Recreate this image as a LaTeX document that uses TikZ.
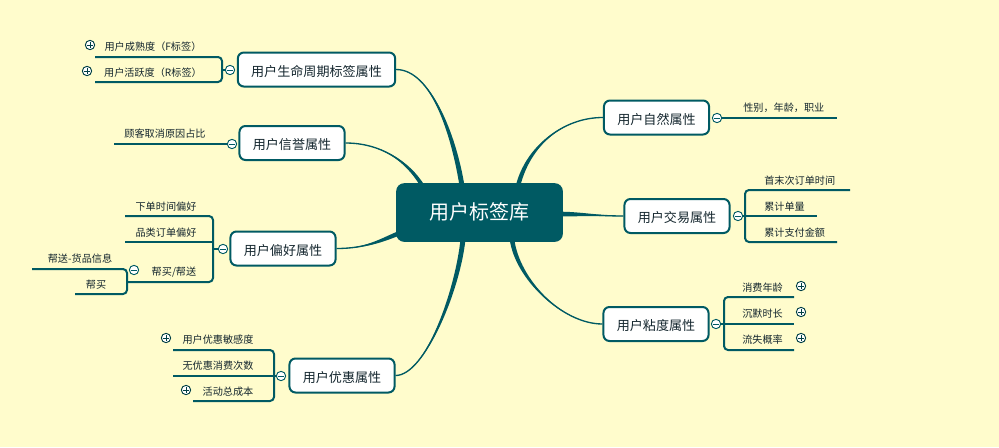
\documentclass[tikz,border=0pt]{standalone}
\usepackage{fontspec}
\setmainfont{Noto Sans CJK SC}
\usetikzlibrary{calc}

\definecolor{bgc}{RGB}{255,252,204}
\definecolor{mainc}{RGB}{0,90,99}
\definecolor{txtc}{RGB}{20,38,46}

\pgfdeclarelayer{back}
\pgfsetlayers{back,main}

\tikzset{
  root/.style={fill=mainc, rounded corners=6pt, text=white, text height=1em, text depth=0pt,
    font=\fontsize{15}{18}\selectfont, minimum width=125pt, minimum height=44pt},
  topic/.style={draw=mainc, fill=white, line width=1.5pt, rounded corners=4.5pt,
    text=txtc, font=\fontsize{9.8}{12}\selectfont, text height=1em, text depth=0pt,
    inner xsep=10pt, minimum height=25.5pt},
  leaf/.style={text=txtc, font=\fontsize{7.6}{9}\selectfont, text height=0.7em, text depth=0pt, inner sep=0pt},
  sub/.style={draw=mainc, line width=1.5pt, rounded corners=3pt},
  fold/.style={circle, draw=mainc, fill=white, line width=0.7pt, minimum size=7pt, inner sep=0pt,
    path picture={\draw[mainc, line width=0.6pt]
      ($(path picture bounding box.center)+(-2.6,0)$) -- ($(path picture bounding box.center)+(2.6,0)$);}},
  unfold/.style={circle, draw=mainc!70!black, fill=white, line width=0.7pt, minimum size=7pt, inner sep=0pt,
    path picture={\draw[mainc!70!black, line width=0.6pt]
      ($(path picture bounding box.center)+(-2.6,0)$) -- ($(path picture bounding box.center)+(2.6,0)$)
      ($(path picture bounding box.center)+(0,-2.6)$) -- ($(path picture bounding box.center)+(0,2.6)$);}}
}

% tapered branch: from, ctrl1, ctrl2, to, half width
\newcommand{\branch}[5]{%
  \fill[mainc] (#1) .. controls +(#2) and +(#3) .. ($(#4)+(#5)$) -- ($(#4)-(#5)$) .. controls +(#3) and +(#2) .. (#1);
  \draw[mainc, line width=1pt] (#1) .. controls +(#2) and +(#3) .. (#4);
}

\begin{document}
\begin{tikzpicture}[x=0.75pt,y=-0.75pt]
\useasboundingbox (0,0) rectangle (999,447);
\begin{pgfonlayer}{back}
\fill[bgc] (0,0) rectangle (999,447);
\end{pgfonlayer}

\node[root] (root) at (479.5,212.5) {用户标签库};

% left topics
\node[topic] (lc) at (316.5,69.5) {用户生命周期标签属性};
\node[topic] (xy) at (292,143) {用户信誉属性};
\node[topic] (ph) at (283,248.5) {用户偏好属性};
\node[topic] (yh) at (342,375.5) {用户优惠属性};
% right topics
\node[topic] (zr) at (656.5,117.5) {用户自然属性};
\node[topic] (jy) at (677,216) {用户交易属性};
\node[topic] (nd) at (656,324) {用户粘度属性};

% branches
\begin{pgfonlayer}{back}
\coordinate (eLc) at ($(root.north)+(-17.5,3)$);
\coordinate (eXy) at ($(root.north)+(-57,3)$);
\coordinate (ePh) at ($(root.south west)+(6,-10)$);
\coordinate (eYh) at ($(root.south)+(-16.5,-3)$);
\coordinate (eZr) at ($(root.north)+(38.5,3)$);
\coordinate (eJy) at ($(root.east)+(-3,1.5)$);
\coordinate (eNd) at ($(root.south)+(32.5,-3)$);
\branch{lc.east}{35,0}{-8,-50}{eLc}{2.5,0}
\branch{xy.east}{35,0}{-15,-25}{eXy}{2.3,0}
\branch{ph.east}{30,0}{-20,8}{ePh}{0.8,2.1}
\branch{yh.east}{30,0}{-5,50}{eYh}{2.5,0}
\branch{zr.west}{-40,0}{10,-40}{eZr}{2.3,0}
\branch{jy.west}{-20,0}{20,0}{eJy}{0,2.3}
\branch{nd.west}{-40,0}{5,40}{eNd}{2.3,0}
\end{pgfonlayer}

% fold marks
\node[fold] (lcm) at (230,70) {};
\node[fold] (xym) at (232,144) {};
\node[fold] (phm) at (223,249) {};
\node[fold] (bbm) at (134,270) {};
\node[fold] (yhm) at (281,376) {};
\node[fold] (zrm) at (717,118) {};
\node[fold] (jym) at (738,216) {};
\node[fold] (ndm) at (716,324) {};
\node[unfold] (f1p) at (90,45) {};
\node[unfold] (f2p) at (87,71) {};
\node[unfold] (y1p) at (166,338) {};
\node[unfold] (y3p) at (186,390) {};
\node[unfold] (n1p) at (801,286) {};
\node[unfold] (n2p) at (801,312) {};
\node[unfold] (n3p) at (801,338) {};

% sub lines
\draw[sub] (95,57) -- (222,57) -- (222,82) -- (95,82);
\draw[sub] (222,70) -- (lcm.west);
\draw[sub] (114,144) -- (xym.west);
\draw[sub] (125,216) -- (213,216) -- (213,282) -- (127,282);
\draw[sub] (125,242) -- (213,242);
\draw[sub] (213,249) -- (phm.west);
\draw[sub] (32,269) -- (127,269) -- (127,294) -- (75,294);
\draw[sub] (173,350) -- (274,350) -- (274,401) -- (193,401);
\draw[sub] (173,376) -- (yhm.west);
\draw[sub] (zrm.east) -- (837,118);
\draw[sub] (850,190) -- (745,190) -- (745,242) -- (837,242);
\draw[sub] (jym.east) -- (817,216);
\draw[sub] (794,297) -- (724,297) -- (724,350) -- (794,350);
\draw[sub] (ndm.east) -- (794,324);

% leaves
\node[leaf] (f1) at (153,46) {用户成熟度（F标签）};
\node[leaf] (f2) at (153,72) {用户活跃度（R标签）};
\node[leaf] (x1) at (165,133) {顾客取消原因占比};
\node[leaf] (p1) at (166,206) {下单时间偏好};
\node[leaf] (p2) at (166,232) {品类订单偏好};
\node[leaf] (p3) at (174,271) {帮买/帮送};
\node[leaf] (b1) at (80,258) {帮送-货品信息};
\node[leaf] (b2) at (96,284) {帮买};
\node[leaf] (y1) at (218,339) {用户优惠敏感度};
\node[leaf] (y2) at (218,365) {无优惠消费次数};
\node[leaf] (y3) at (228,391) {活动总成本};
\node[leaf, anchor=west] (z1) at (743,107) {性别，年龄，职业};
\node[leaf, anchor=west] (j1) at (764,180) {首末次订单时间};
\node[leaf, anchor=west] (j2) at (764,206) {累计单量};
\node[leaf, anchor=west] (j3) at (764,232) {累计支付金额};
\node[leaf, anchor=west] (n1) at (742,287) {消费年龄};
\node[leaf, anchor=west] (n2) at (742,313) {沉默时长};
\node[leaf, anchor=west] (n3) at (742,339) {流失概率};
\end{tikzpicture}
\end{document}
